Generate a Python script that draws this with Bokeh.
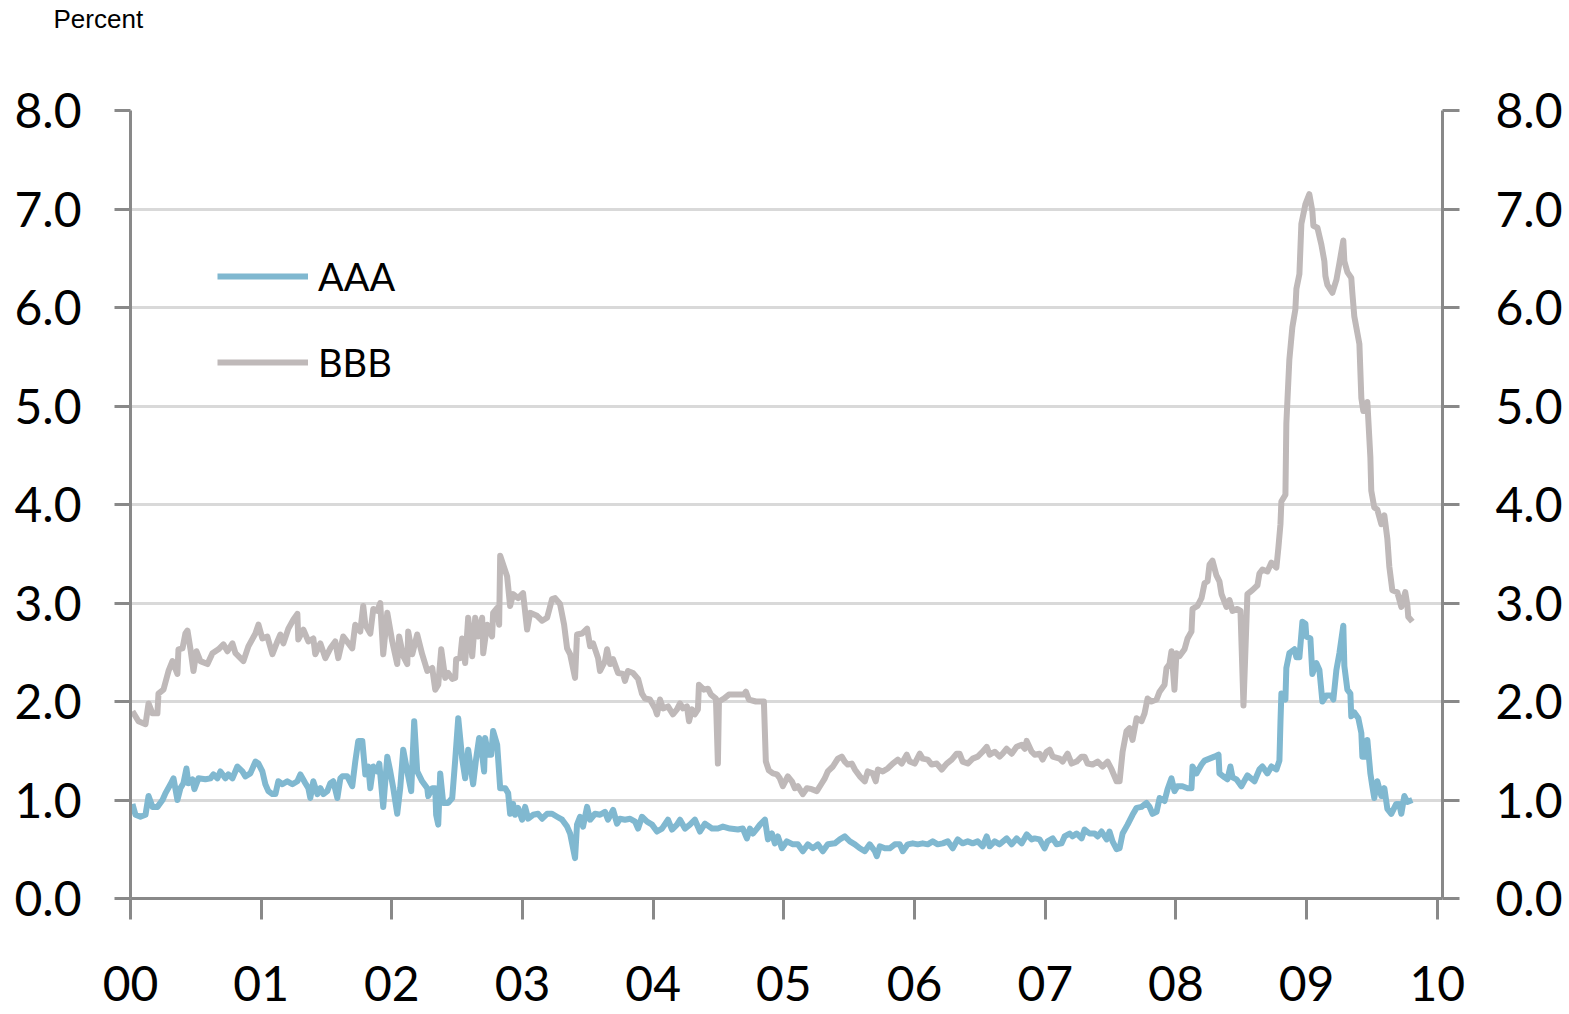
import numpy as np
from bokeh.plotting import figure
from bokeh.models import (LinearAxis, Range1d, FixedTicker, Legend, LegendItem,
                          CustomJSTickFormatter, Title)
from bokeh.embed import file_html
from bokeh.resources import INLINE

# ---------------- data (years after Jan 2000, percent) ----------------
bbb_t = [0.015, 0.061, 0.115, 0.138, 0.168, 0.206, 0.214, 0.252, 0.291, 0.321,
         0.359, 0.367, 0.398, 0.420, 0.436, 0.459, 0.482, 0.505, 0.535, 0.589,
         0.627, 0.673, 0.711, 0.742, 0.780, 0.803, 0.864, 0.902, 0.956, 0.979,
         1.009, 1.047, 1.086, 1.124, 1.147, 1.170, 1.208, 1.246, 1.277, 1.284,
         1.323, 1.361, 1.399, 1.414, 1.453, 1.491, 1.529, 1.567, 1.590, 1.628,
         1.697, 1.720, 1.758, 1.781, 1.797, 1.835, 1.858, 1.888, 1.911, 1.934,
         1.965, 2.003, 2.041, 2.056, 2.087, 2.118, 2.125, 2.156, 2.194, 2.232,
         2.271, 2.309, 2.332, 2.355, 2.378, 2.408, 2.431, 2.462, 2.485, 2.492,
         2.523, 2.538, 2.561, 2.584, 2.615, 2.638, 2.660, 2.691, 2.699, 2.729,
         2.767, 2.775, 2.806, 2.821, 2.829, 2.882, 2.905, 2.928, 2.966, 3.004,
         3.035, 3.058, 3.111, 3.150, 3.188, 3.226, 3.249, 3.287, 3.318, 3.341,
         3.364, 3.402, 3.417, 3.455, 3.494, 3.517, 3.540, 3.578, 3.593, 3.631,
         3.647, 3.670, 3.693, 3.731, 3.769, 3.784, 3.807, 3.845, 3.884, 3.914,
         3.937, 3.975, 4.014, 4.029, 4.052, 4.075, 4.113, 4.151, 4.182, 4.205,
         4.228, 4.258, 4.274, 4.297, 4.319, 4.342, 4.350, 4.388, 4.419, 4.442,
         4.480, 4.495, 4.503, 4.541, 4.579, 4.656, 4.694, 4.709, 4.732, 4.786,
         4.847, 4.862, 4.885, 4.916, 4.947, 4.969, 4.992, 5.030, 5.061, 5.084,
         5.107, 5.145, 5.176, 5.214, 5.252, 5.290, 5.313, 5.336, 5.375, 5.413,
         5.443, 5.466, 5.489, 5.520, 5.543, 5.581, 5.619, 5.642, 5.680, 5.703,
         5.719, 5.757, 5.795, 5.833, 5.872, 5.902, 5.940, 5.963, 6.001, 6.040,
         6.062, 6.101, 6.131, 6.170, 6.208, 6.246, 6.284, 6.322, 6.345, 6.368,
         6.407, 6.445, 6.483, 6.521, 6.552, 6.575, 6.613, 6.651, 6.674, 6.705,
         6.743, 6.781, 6.820, 6.843, 6.858, 6.896, 6.919, 6.957, 6.980, 7.011,
         7.034, 7.057, 7.110, 7.133, 7.171, 7.202, 7.240, 7.278, 7.301, 7.324,
         7.362, 7.401, 7.439, 7.477, 7.508, 7.546, 7.569, 7.592, 7.622, 7.645,
         7.668, 7.699, 7.737, 7.760, 7.783, 7.813, 7.852, 7.875, 7.913, 7.928,
         7.951, 7.966, 7.974, 7.989, 8.004, 8.027, 8.066, 8.089, 8.119, 8.127,
         8.165, 8.196, 8.219, 8.242, 8.257, 8.280, 8.310, 8.333, 8.349, 8.387,
         8.410, 8.433, 8.471, 8.494, 8.517, 8.547, 8.585, 8.624, 8.639, 8.662,
         8.700, 8.731, 8.769, 8.784, 8.800, 8.807, 8.838, 8.845, 8.868, 8.891,
         8.914, 8.922, 8.945, 8.960, 8.991, 9.021, 9.044, 9.052, 9.083, 9.113,
         9.136, 9.144, 9.159, 9.197, 9.228, 9.251, 9.281, 9.289, 9.312, 9.342,
         9.350, 9.365, 9.404, 9.419, 9.434, 9.465, 9.488, 9.495, 9.518, 9.541,
         9.572, 9.595, 9.618, 9.633, 9.656, 9.694, 9.725, 9.755, 9.771, 9.778,
         9.809]
bbb_pct = [1.90, 1.80, 1.77, 1.98, 1.88, 1.88, 2.08, 2.12, 2.31, 2.41,
           2.28, 2.53, 2.54, 2.69, 2.72, 2.53, 2.31, 2.51, 2.41, 2.38,
           2.49, 2.53, 2.58, 2.51, 2.59, 2.49, 2.41, 2.56, 2.69, 2.78,
           2.64, 2.66, 2.48, 2.61, 2.68, 2.59, 2.74, 2.83, 2.89, 2.63,
           2.73, 2.61, 2.64, 2.48, 2.59, 2.44, 2.54, 2.61, 2.44, 2.66,
           2.54, 2.78, 2.71, 2.97, 2.78, 2.69, 2.94, 2.92, 3.00, 2.48,
           2.90, 2.61, 2.38, 2.66, 2.46, 2.38, 2.71, 2.48, 2.68, 2.48,
           2.31, 2.34, 2.12, 2.17, 2.53, 2.24, 2.29, 2.23, 2.24, 2.43,
           2.44, 2.64, 2.39, 2.85, 2.46, 2.85, 2.66, 2.85, 2.49, 2.78,
           2.66, 2.90, 2.95, 2.78, 3.48, 3.27, 2.97, 3.09, 3.05, 3.10,
           2.73, 2.90, 2.87, 2.82, 2.85, 3.04, 3.05, 2.99, 2.78, 2.54,
           2.48, 2.24, 2.68, 2.69, 2.74, 2.56, 2.59, 2.44, 2.31, 2.41,
           2.53, 2.38, 2.43, 2.29, 2.28, 2.21, 2.31, 2.29, 2.23, 2.08,
           2.03, 2.02, 1.93, 1.87, 2.02, 1.93, 1.95, 1.87, 1.92, 1.98,
           1.93, 1.95, 1.80, 1.92, 1.87, 1.92, 2.17, 2.12, 2.13, 2.07,
           2.03, 1.37, 2.00, 2.03, 2.07, 2.07, 2.07, 2.10, 2.02, 2.00,
           2.00, 1.39, 1.30, 1.27, 1.26, 1.22, 1.14, 1.24, 1.19, 1.12,
           1.14, 1.06, 1.12, 1.11, 1.09, 1.17, 1.22, 1.29, 1.34, 1.42,
           1.44, 1.39, 1.36, 1.37, 1.31, 1.24, 1.19, 1.29, 1.27, 1.19,
           1.31, 1.29, 1.32, 1.37, 1.41, 1.37, 1.46, 1.39, 1.37, 1.47,
           1.42, 1.41, 1.36, 1.37, 1.31, 1.37, 1.41, 1.47, 1.47, 1.39,
           1.37, 1.42, 1.44, 1.49, 1.54, 1.46, 1.49, 1.44, 1.47, 1.52,
           1.47, 1.54, 1.56, 1.52, 1.60, 1.49, 1.46, 1.47, 1.41, 1.49,
           1.51, 1.44, 1.42, 1.39, 1.47, 1.37, 1.39, 1.44, 1.44, 1.37,
           1.36, 1.39, 1.34, 1.39, 1.31, 1.19, 1.19, 1.49, 1.70, 1.73,
           1.61, 1.83, 1.80, 1.88, 2.03, 2.00, 2.02, 2.10, 2.17, 2.34,
           2.38, 2.51, 2.38, 2.12, 2.49, 2.46, 2.53, 2.64, 2.71, 2.94,
           2.97, 3.05, 3.20, 3.22, 3.39, 3.43, 3.28, 3.22, 3.09, 2.96,
           3.03, 2.92, 2.94, 2.92, 1.96, 3.09, 3.13, 3.18, 3.30, 3.34,
           3.32, 3.41, 3.36, 3.56, 3.80, 4.03, 4.10, 4.82, 5.47, 5.80,
           5.98, 6.19, 6.34, 6.85, 7.05, 7.15, 6.98, 6.83, 6.81, 6.64,
           6.47, 6.32, 6.23, 6.15, 6.28, 6.45, 6.68, 6.47, 6.36, 6.30,
           6.15, 5.91, 5.63, 5.08, 4.95, 5.04, 4.48, 4.14, 3.97, 3.95,
           3.80, 3.89, 3.65, 3.37, 3.13, 3.11, 2.96, 3.11, 2.98, 2.86,
           2.81]

aaa_t = [0.015, 0.038, 0.076, 0.115, 0.138, 0.168, 0.206, 0.245, 0.268, 0.306,
         0.329, 0.359, 0.382, 0.405, 0.428, 0.443, 0.474, 0.489, 0.520, 0.573,
         0.612, 0.635, 0.665, 0.688, 0.726, 0.749, 0.780, 0.818, 0.856, 0.879,
         0.917, 0.956, 0.979, 1.009, 1.032, 1.055, 1.086, 1.109, 1.131, 1.162,
         1.200, 1.239, 1.277, 1.300, 1.338, 1.361, 1.376, 1.399, 1.430, 1.453,
         1.476, 1.506, 1.529, 1.552, 1.583, 1.606, 1.621, 1.659, 1.697, 1.720,
         1.743, 1.774, 1.797, 1.820, 1.835, 1.858, 1.888, 1.904, 1.934, 1.965,
         1.988, 2.011, 2.041, 2.064, 2.087, 2.118, 2.148, 2.171, 2.194, 2.232,
         2.271, 2.278, 2.309, 2.332, 2.339, 2.355, 2.370, 2.393, 2.431, 2.462,
         2.485, 2.508, 2.538, 2.561, 2.584, 2.622, 2.645, 2.668, 2.691, 2.706,
         2.714, 2.737, 2.760, 2.775, 2.806, 2.829, 2.867, 2.890, 2.905, 2.928,
         2.943, 2.966, 2.997, 3.020, 3.043, 3.081, 3.119, 3.150, 3.188, 3.226,
         3.264, 3.303, 3.341, 3.364, 3.402, 3.417, 3.440, 3.463, 3.494, 3.517,
         3.555, 3.593, 3.631, 3.654, 3.693, 3.723, 3.746, 3.784, 3.823, 3.861,
         3.884, 3.914, 3.953, 3.991, 4.029, 4.067, 4.113, 4.144, 4.182, 4.205,
         4.243, 4.281, 4.319, 4.358, 4.396, 4.450, 4.495, 4.534, 4.587, 4.648,
         4.686, 4.717, 4.740, 4.763, 4.794, 4.817, 4.855, 4.878, 4.908, 4.931,
         4.954, 4.985, 5.023, 5.069, 5.107, 5.145, 5.184, 5.222, 5.260, 5.298,
         5.336, 5.390, 5.428, 5.466, 5.505, 5.543, 5.581, 5.619, 5.657, 5.696,
         5.711, 5.734, 5.772, 5.810, 5.849, 5.887, 5.910, 5.948, 5.986, 6.024,
         6.062, 6.101, 6.139, 6.177, 6.216, 6.254, 6.292, 6.330, 6.368, 6.407,
         6.445, 6.483, 6.521, 6.552, 6.575, 6.613, 6.651, 6.705, 6.743, 6.781,
         6.820, 6.858, 6.896, 6.919, 6.957, 6.995, 7.018, 7.057, 7.087, 7.125,
         7.148, 7.187, 7.209, 7.240, 7.278, 7.301, 7.339, 7.378, 7.401, 7.431,
         7.470, 7.492, 7.515, 7.546, 7.569, 7.592, 7.630, 7.668, 7.699, 7.737,
         7.775, 7.798, 7.821, 7.852, 7.875, 7.913, 7.936, 7.966, 7.989, 8.012,
         8.050, 8.089, 8.119, 8.127, 8.157, 8.196, 8.219, 8.257, 8.295, 8.326,
         8.333, 8.372, 8.394, 8.417, 8.433, 8.463, 8.501, 8.547, 8.601, 8.639,
         8.662, 8.700, 8.731, 8.769, 8.792, 8.800, 8.807, 8.838, 8.845, 8.868,
         8.907, 8.922, 8.945, 8.968, 8.991, 8.998, 9.029, 9.044, 9.075, 9.098,
         9.121, 9.151, 9.190, 9.205, 9.228, 9.251, 9.281, 9.289, 9.312, 9.335,
         9.342, 9.365, 9.396, 9.419, 9.427, 9.457, 9.465, 9.488, 9.503, 9.518,
         9.541, 9.572, 9.595, 9.618, 9.648, 9.686, 9.709, 9.725, 9.748, 9.771,
         9.809]
aaa_pct = [0.96, 0.85, 0.83, 0.85, 1.04, 0.93, 0.93, 1.00, 1.07, 1.16,
           1.22, 1.00, 1.12, 1.17, 1.32, 1.17, 1.21, 1.11, 1.22, 1.21,
           1.22, 1.26, 1.22, 1.29, 1.22, 1.26, 1.22, 1.34, 1.29, 1.24,
           1.27, 1.39, 1.37, 1.29, 1.16, 1.09, 1.06, 1.06, 1.19, 1.16,
           1.19, 1.16, 1.19, 1.26, 1.17, 1.12, 1.02, 1.19, 1.06, 1.12,
           1.06, 1.09, 1.17, 1.19, 1.02, 1.22, 1.24, 1.24, 1.14, 1.39,
           1.60, 1.60, 1.26, 1.34, 1.12, 1.34, 1.29, 1.37, 0.93, 1.44,
           1.29, 1.12, 0.86, 1.12, 1.51, 1.29, 1.09, 1.80, 1.29, 1.19,
           1.12, 1.04, 1.12, 1.12, 0.85, 0.75, 1.27, 0.97, 0.97, 1.02,
           1.41, 1.83, 1.42, 1.22, 1.51, 1.16, 1.42, 1.63, 1.46, 1.29,
           1.63, 1.46, 1.46, 1.70, 1.56, 1.12, 1.12, 1.07, 0.86, 0.96,
           0.85, 0.92, 0.80, 0.93, 0.81, 0.85, 0.86, 0.81, 0.86, 0.86,
           0.83, 0.80, 0.73, 0.66, 0.41, 0.75, 0.83, 0.73, 0.93, 0.80,
           0.86, 0.85, 0.88, 0.80, 0.90, 0.76, 0.81, 0.80, 0.81, 0.78,
           0.71, 0.83, 0.78, 0.75, 0.68, 0.71, 0.80, 0.70, 0.75, 0.80,
           0.71, 0.75, 0.80, 0.68, 0.76, 0.71, 0.71, 0.73, 0.71, 0.70,
           0.71, 0.61, 0.71, 0.66, 0.71, 0.75, 0.80, 0.60, 0.66, 0.56,
           0.63, 0.51, 0.58, 0.55, 0.55, 0.48, 0.55, 0.51, 0.55, 0.48,
           0.55, 0.56, 0.60, 0.63, 0.58, 0.55, 0.51, 0.48, 0.55, 0.48,
           0.43, 0.53, 0.51, 0.51, 0.55, 0.55, 0.48, 0.55, 0.56, 0.55,
           0.56, 0.55, 0.58, 0.55, 0.56, 0.58, 0.51, 0.60, 0.56, 0.58,
           0.56, 0.58, 0.53, 0.63, 0.53, 0.58, 0.55, 0.61, 0.55, 0.61,
           0.56, 0.65, 0.60, 0.61, 0.60, 0.51, 0.58, 0.61, 0.55, 0.56,
           0.63, 0.66, 0.63, 0.66, 0.61, 0.70, 0.66, 0.66, 0.63, 0.68,
           0.60, 0.68, 0.58, 0.50, 0.51, 0.66, 0.75, 0.85, 0.92, 0.93,
           0.97, 0.93, 0.86, 0.88, 1.02, 0.99, 1.11, 1.22, 1.09, 1.14,
           1.14, 1.12, 1.12, 1.34, 1.27, 1.36, 1.40, 1.42, 1.44, 1.46,
           1.27, 1.23, 1.21, 1.34, 1.23, 1.21, 1.14, 1.25, 1.19, 1.31,
           1.34, 1.27, 1.34, 1.31, 1.40, 1.79, 2.08, 2.02, 2.34, 2.49,
           2.53, 2.45, 2.45, 2.81, 2.79, 2.66, 2.64, 2.28, 2.39, 2.32,
           2.00, 2.06, 2.06, 2.02, 2.32, 2.49, 2.77, 2.36, 2.12, 2.08,
           1.85, 1.89, 1.83, 1.68, 1.44, 1.44, 1.61, 1.27, 1.14, 1.02,
           1.19, 1.04, 1.12, 0.91, 0.86, 0.96, 0.96, 0.86, 1.04, 0.98,
           1.00]

series_names = ["AAA", "BBB"]
year_ticks = [2000, 2001, 2002, 2003, 2004, 2005, 2006, 2007, 2008, 2009, 2010]
year_labels = ["00", "01", "02", "03", "04", "05", "06", "07", "08", "09", "10"]
pct_ticks = [0, 1, 2, 3, 4, 5, 6, 7, 8]
unit_label = "Percent"

aaa_year = 2000 + np.array(aaa_t)
bbb_year = 2000 + np.array(bbb_t)

# ---------------- styling ----------------
AAA_COLOR = "#80b8d0"
BBB_COLOR = "#bfb9b9"
AXIS_COLOR = "#898989"
GRID_COLOR = "#d9d9d9"
FONT = "Lato"

p = figure(width=1569, height=1014, output_backend="svg", toolbar_location=None,
           x_range=Range1d(2000, 2010.04), y_range=Range1d(0, 8),
           min_border_left=130, min_border_right=127,
           min_border_top=110, min_border_bottom=116)
p.outline_line_color = None
p.background_fill_color = "white"
p.border_fill_color = "white"

# unit label as the (left aligned) title, lifted by a blank spacer title
p.title.text = unit_label
p.title.align = "left"
p.title.offset = -77
p.title.standoff = 0
p.title.text_font = "Liberation Sans"
p.title.text_font_size = "26px"
p.title.text_font_style = "normal"
p.title.text_color = "black"
p.add_layout(Title(text=" ", text_font_size="24px", standoff=48), "above")

p.xgrid.visible = False
p.ygrid.grid_line_color = GRID_COLOR
p.ygrid.grid_line_width = 3
p.ygrid.ticker = FixedTicker(ticks=pct_ticks)

fmt_y = CustomJSTickFormatter(code="return tick.toFixed(1);")
label_map = dict(zip(year_ticks, year_labels))


def style_axis(ax, standoff):
    ax.axis_line_color = AXIS_COLOR
    ax.axis_line_width = 3
    ax.major_tick_line_color = AXIS_COLOR
    ax.major_tick_line_width = 3
    ax.major_tick_in = 0
    ax.minor_tick_line_color = None
    ax.major_label_text_font = FONT
    ax.major_label_text_font_size = "48px"
    ax.major_label_text_color = "black"
    ax.major_label_standoff = standoff


# x axis
xa = p.xaxis[0]
xa.ticker = FixedTicker(ticks=year_ticks)
xa.major_label_overrides = {k: v for k, v in label_map.items()}
style_axis(xa, 46)
xa.major_tick_out = 21

# left y axis
ya = p.yaxis[0]
ya.ticker = FixedTicker(ticks=pct_ticks)
ya.formatter = fmt_y
style_axis(ya, 33)
ya.major_tick_out = 16

# right y axis
yr = LinearAxis(ticker=FixedTicker(ticks=pct_ticks), formatter=fmt_y)
style_axis(yr, 36)
yr.major_tick_out = 17
p.add_layout(yr, "right")

r_bbb = p.line(bbb_year, bbb_pct, line_color=BBB_COLOR, line_width=6, line_join="round")
r_aaa = p.line(aaa_year, aaa_pct, line_color=AAA_COLOR, line_width=6, line_join="round")

legend = Legend(items=[LegendItem(label=series_names[0], renderers=[r_aaa]),
                       LegendItem(label=series_names[1], renderers=[r_bbb])],
                location=(87, 513), orientation="vertical")
legend.glyph_width = 91
legend.glyph_height = 40
legend.label_height = 40
legend.label_standoff = 10
legend.spacing = 40
legend.padding = 0
legend.margin = 0
legend.border_line_color = None
legend.background_fill_alpha = 0
legend.label_text_font = FONT
legend.label_text_font_size = "38px"
legend.label_text_color = "black"
p.add_layout(legend)

open("out.html", "w").write(file_html(p, INLINE))
